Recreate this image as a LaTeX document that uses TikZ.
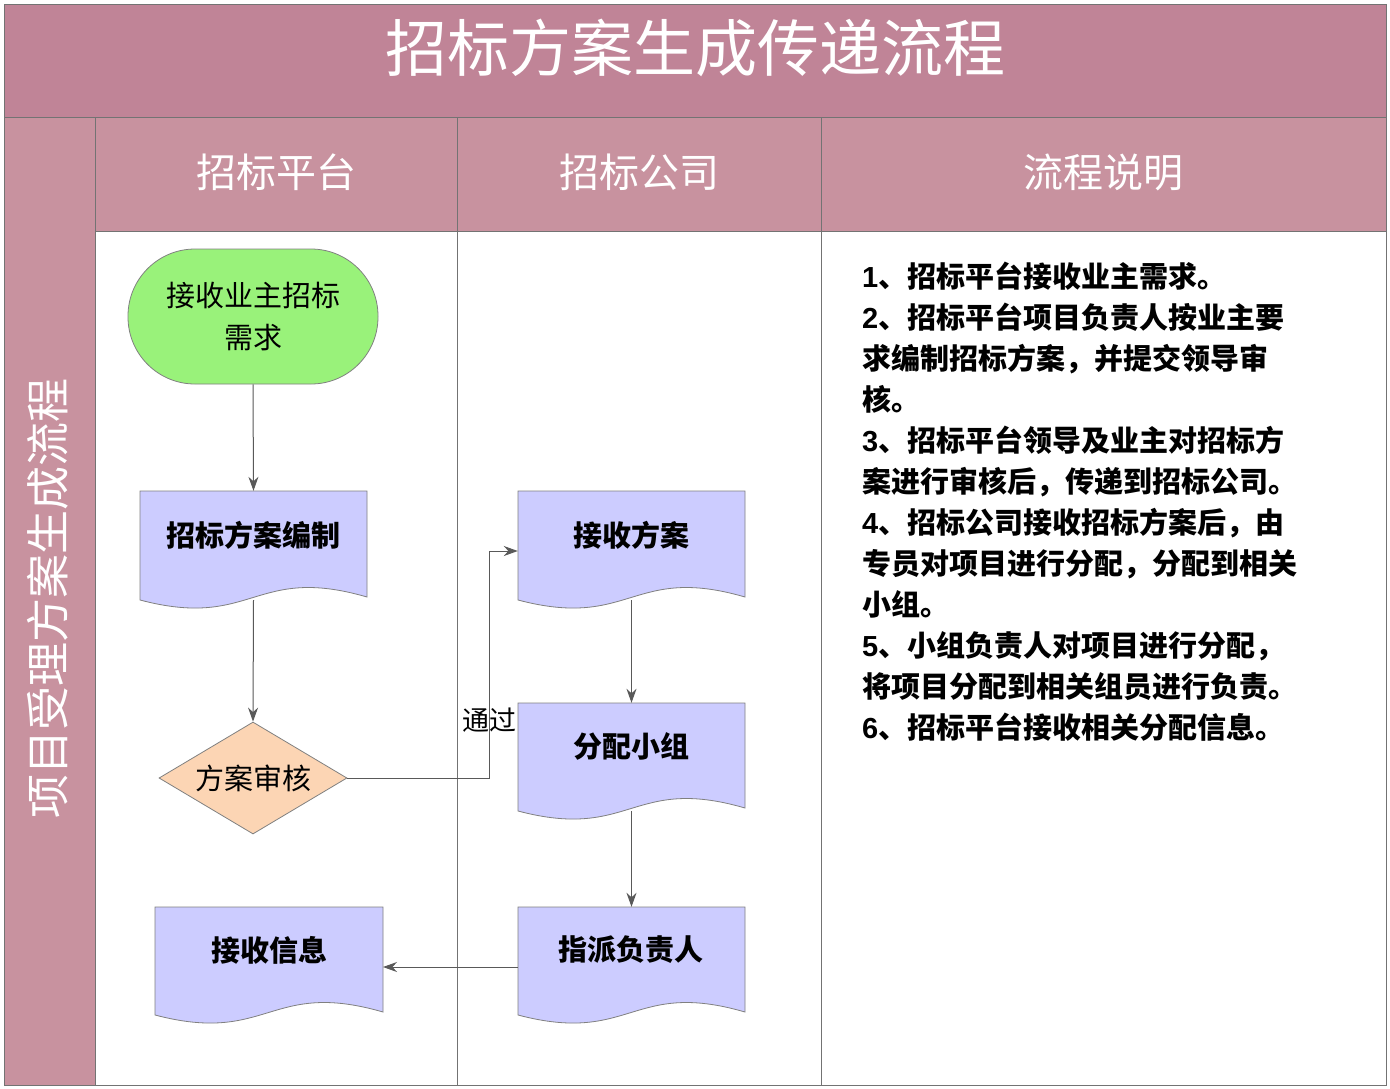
\documentclass[tikz,border=0pt]{standalone}
\usepackage{fontspec}
\setmainfont{Liberation Sans}
\newfontfamily\cjk{Noto Sans CJK SC}
\usetikzlibrary{shapes.geometric,arrows.meta}
\definecolor{band}{HTML}{C08497}
\definecolor{hdr}{HTML}{C8929F}
\definecolor{docf}{HTML}{CCCCFF}
\definecolor{grn}{HTML}{99F27A}
\definecolor{dia}{HTML}{FCD5B4}
\tikzset{
  frame/.style={draw=black!55,line width=0.8pt},
  docshape/.style={draw=black!50,fill=docf,line width=0.8pt},
  lbl/.style={font=\cjk\bfseries\fontsize{29}{34}\selectfont,text=black},
  hd/.style={font=\cjk\fontsize{40}{44}\selectfont,text=white},
  arr/.style={draw=black!65,line width=1pt,-{Stealth[length=14pt,width=10pt]}},
  ghost/.style={draw=none,inner sep=0pt,rectangle}
}
\newcommand{\docat}[4]{% x1 ytop x2 ybottom-left
  \path[docshape] (#1,#2) -- (#3,#2) -- (#3,#4-3) .. controls ({#1+0.5*(#3-#1)},#4-36) and ({#1+0.5*(#3-#1)},#4+30) .. (#1,#4) -- cycle;}
\begin{document}
\begin{tikzpicture}[x=1pt,y=-1pt]
\useasboundingbox (0,0) rectangle (1390,1088);
\fill[white] (0,0) rectangle (1390,1088);
% bands
\fill[band] (4,4) rectangle (1386,117);
\fill[hdr] (4,117) rectangle (95,1085);
\fill[hdr] (95,117) rectangle (1386,231);
\draw[frame] (4,4) rectangle (1386,1085);
\draw[frame] (4,117) -- (1386,117);
\draw[frame] (95,117) -- (95,1085);
\draw[frame] (95,231) -- (1386,231);
\draw[frame] (457,117) -- (457,1085);
\draw[frame] (821,117) -- (821,1085);
\node[font=\cjk\fontsize{62}{66}\selectfont,text=white] (title) at (695,48) {招标方案生成传递流程};
\node[font=\cjk\fontsize{44}{48}\selectfont,text=white,rotate=90] (side) at (48,598) {项目受理方案生成流程};
\node[hd] (h1) at (276,172) {招标平台};
\node[hd] (h2) at (639,172) {招标公司};
\node[hd] (h3) at (1103,172) {流程说明};
% start
\node[draw=black!50,fill=grn,line width=0.8pt,rounded corners=67pt,minimum width=250pt,minimum height=135pt,align=center,font=\cjk\fontsize{29}{42}\selectfont] (start) at (253,316.5) {接收业主招标\\需求};
% documents
\docat{140}{491}{367}{600}
\node[ghost,minimum width=227pt,minimum height=109pt] (d1) at (253.5,545.5) {};
\node[lbl] (t1) at (253,535) {招标方案编制};
\docat{155}{907}{383}{1015}
\node[ghost,minimum width=228pt,minimum height=108pt] (d4) at (269,961) {};
\node[lbl] (t4) at (269,950) {接收信息};
\docat{518}{491}{745}{600}
\node[ghost,minimum width=227pt,minimum height=109pt] (d2) at (631.5,545.5) {};
\node[lbl] (t2) at (631,535) {接收方案};
\docat{518}{703}{745}{811}
\node[ghost,minimum width=227pt,minimum height=108pt] (d3) at (631.5,757) {};
\node[lbl] (t3) at (631,746) {分配小组};
\docat{518}{907}{745}{1015}
\node[ghost,minimum width=227pt,minimum height=108pt] (d5) at (631.5,961) {};
\node[lbl] (t5) at (631,950) {指派负责人};
% diamond
\node[diamond,draw=black!50,fill=dia,line width=0.8pt,minimum width=188pt,minimum height=112pt,inner sep=0pt,aspect=1.68,font=\cjk\fontsize{29}{34}\selectfont] (dm) at (253,778) {方案审核};
% arrows
\draw[arr] (start.south) -- (d1.north);
\draw[arr] (d1.south) -- (dm.north);
\coordinate (k1) at (489,778);
\coordinate (k2) at (489,551);
\draw[arr] (dm.east) -- (k1) -- (k2) -- (d2.west|-k2);
\node[font=\cjk\fontsize{27}{30}\selectfont] (pass) at (489,720) {通过};
\draw[arr] (d2.south) -- (d3.north);
\draw[arr] (d3.south) -- (d5.north);
\draw[arr] (d5.west|-0,967) -- (383,967);
% description
\node[anchor=north west,align=left,font=\bfseries\fontsize{29}{41}\selectfont,inner sep=0pt] (desc) at (862,262) {%
1{\cjk、招标平台接收业主需求。}\\
2{\cjk、招标平台项目负责人按业主要}\\
{\cjk 求编制招标方案，并提交领导审}\\
{\cjk 核。}\\
3{\cjk、招标平台领导及业主对招标方}\\
{\cjk 案进行审核后，传递到招标公司。}\\
4{\cjk、招标公司接收招标方案后，由}\\
{\cjk 专员对项目进行分配，分配到相关}\\
{\cjk 小组。}\\
5{\cjk、小组负责人对项目进行分配，}\\
{\cjk 将项目分配到相关组员进行负责。}\\
6{\cjk、招标平台接收相关分配信息。}};
\end{tikzpicture}
\end{document}
